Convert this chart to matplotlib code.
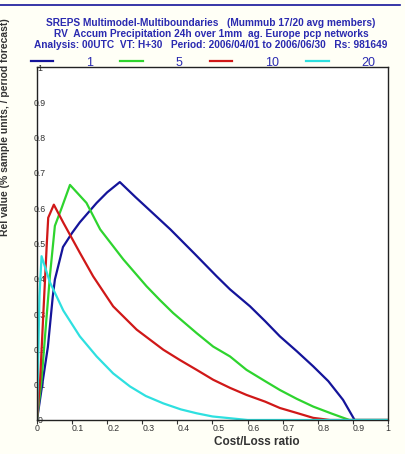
import numpy as np
import matplotlib
matplotlib.use('Agg')
import matplotlib.pyplot as plt
from matplotlib.lines import Line2D

# cost/loss ratio vs value
x_1 = [0, 0.017, 0.031, 0.045, 0.051, 0.074, 0.10, 0.122, 0.17, 0.20, 0.236, 0.28, 0.342, 0.38,
       0.407, 0.45, 0.512, 0.55, 0.607, 0.65, 0.692, 0.74, 0.787, 0.83, 0.872, 0.905, 1.0]
v_1 = [0, 0.114, 0.207, 0.35, 0.398, 0.49, 0.53, 0.56, 0.615, 0.645, 0.674, 0.632, 0.575, 0.54,
       0.513, 0.47, 0.407, 0.37, 0.322, 0.28, 0.237, 0.195, 0.152, 0.11, 0.057, 0.0, 0.0]

x_5 = [0, 0.013, 0.028, 0.037, 0.051, 0.07, 0.094, 0.141, 0.18, 0.246, 0.312, 0.35, 0.388,
       0.455, 0.502, 0.55, 0.597, 0.65, 0.692, 0.74, 0.787, 0.84, 0.89, 1.0]
v_5 = [0, 0.114, 0.30, 0.41, 0.55, 0.60, 0.666, 0.615, 0.54, 0.455, 0.379, 0.34, 0.303,
       0.246, 0.208, 0.18, 0.142, 0.11, 0.085, 0.06, 0.038, 0.018, 0.0, 0.0]

x_10 = [0, 0.009, 0.018, 0.023, 0.028, 0.032, 0.048, 0.075, 0.122, 0.16, 0.217, 0.284, 0.36,
        0.407, 0.455, 0.502, 0.55, 0.597, 0.65, 0.692, 0.74, 0.787, 0.835, 1.0]
v_10 = [0, 0.114, 0.30, 0.40, 0.50, 0.573, 0.61, 0.559, 0.474, 0.407, 0.322, 0.256, 0.199,
        0.17, 0.142, 0.114, 0.091, 0.071, 0.052, 0.034, 0.02, 0.006, 0.0, 0.0]

x_20 = [0, 0.003, 0.007, 0.013, 0.037, 0.075, 0.122, 0.17, 0.217, 0.265, 0.31, 0.36, 0.41,
        0.455, 0.50, 0.55, 0.60, 1.0]
v_20 = [0, 0.15, 0.35, 0.464, 0.39, 0.31, 0.237, 0.18, 0.132, 0.095, 0.068, 0.047, 0.03,
        0.019, 0.01, 0.005, 0.0, 0.0]

labels = ['1', '5', '10', '20']
colors = ['#14149a', '#2ed42e', '#d01818', '#2ee0e0']

title = ("SREPS Multimodel-Multiboundaries   (Mummub 17/20 avg members)\n"
         "RV  Accum Precipitation 24h over 1mm  ag. Europe pcp networks\n"
         "Analysis: 00UTC  VT: H+30   Period: 2006/04/01 to 2006/06/30   Rs: 981649")

plt.rcParams['font.family'] = ['Liberation Sans', 'DejaVu Sans']

fig = plt.figure(figsize=(4.06, 4.54), dpi=100, facecolor='#fffff6')
ax = fig.add_axes([0.0911, 0.0749, 0.8645, 0.7775])
ax.set_facecolor('white')

xs = [x_1, x_5, x_10, x_20]
vs = [v_1, v_5, v_10, v_20]
for xx, vv, c, lab in zip(xs, vs, colors, labels):
    ax.plot(xx, vv, color=c, linewidth=1.6, label=lab)

ax.set_xlim(0, 1)
ax.set_ylim(0, 1)
ax.set_xticks(np.linspace(0, 1, 11))
ax.set_yticks(np.linspace(0, 1, 11))
ax.set_xticklabels(['0', '0.1', '0.2', '0.3', '0.4', '0.5', '0.6', '0.7', '0.8', '0.9', '1'])
ax.set_yticklabels(['0', '0.1', '0.2', '0.3', '0.4', '0.5', '0.6', '0.7', '0.8', '0.9', '1'])
ax.tick_params(axis='x', direction='out', length=3, pad=0, labelsize=6.3, colors='#333333')
ax.tick_params(axis='y', length=0, pad=-2, labelsize=6.3, labelcolor='#333333')
for t in ax.get_yticklabels():
    t.set_ha('center')
for t in ax.get_xticklabels()[1:-1]:
    t.set_ha('left')
for sp in ax.spines.values():
    sp.set_color('#222222')
    sp.set_linewidth(1.0)

ax.set_xlabel('Cost/Loss ratio', fontsize=8.5, fontweight='bold', color='#333333', labelpad=2)
ax.xaxis.set_label_coords(0.625, -0.045)

fig.text(0.52, 0.96, title, ha='center', va='top', fontsize=7.3, fontweight='bold',
         color='#2a2ab0', linespacing=1.1)

leg = fig.legend(loc='center', bbox_to_anchor=(0.5, 0.862), ncol=4, frameon=False,
                 fontsize=9, handlelength=1.8, handletextpad=2.6, columnspacing=2.2,
                 borderaxespad=0)
for t in leg.get_texts():
    t.set_color('#2a2ab0')

fig.text(0.013, 0.72, 'Rel value (% sample units, / period forecast)', rotation=90,
         ha='center', va='center', fontsize=7.5, fontweight='bold', color='#333333')

fig.add_artist(Line2D([0.0, 0.985], [0.99, 0.99], color='#14149a', linewidth=1.2))

fig.savefig('out.png', dpi=100, facecolor=fig.get_facecolor())
